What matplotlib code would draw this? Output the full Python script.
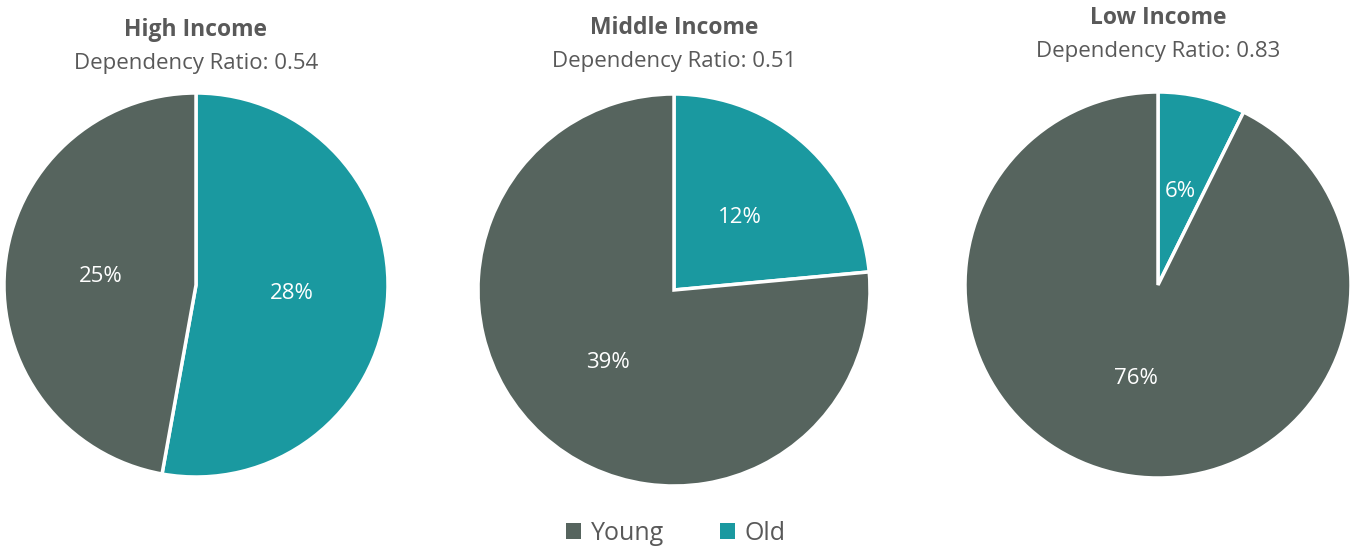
import matplotlib
matplotlib.use("Agg")
from matplotlib import pyplot as plt
from matplotlib.patches import Patch

plt.rcParams['font.family'] = ['Open Sans', 'DejaVu Sans']

groups = ['High Income', 'Middle Income', 'Low Income']
ratios = ['0.54', '0.51', '0.83']
old = [28, 12, 6]
young = [25, 39, 76]

col_young = '#56645E'
col_old = '#1A99A0'
txt = '#595959'

W, H = 1352, 548
fig = plt.figure(figsize=(W / 100, H / 100), dpi=100)

# pie centre (px), radius (px), title y (px)
centres = [(196, 285, 192, 30), (674, 290, 196, 28), (1158, 285, 193, 18)]

for i, (cx, cy, r, ty) in enumerate(centres):
    ax = fig.add_axes([(cx - r) / W, (H - cy - r) / H, 2 * r / W, 2 * r / H])
    vals = [old[i], young[i]]
    wedges, texts = ax.pie(vals, colors=[col_old, col_young], startangle=90,
                           counterclock=False, radius=1,
                           labels=[f'{v}%' for v in vals], labeldistance=0.5,
                           wedgeprops=dict(edgecolor='white', linewidth=2.5))
    for t in texts:
        t.set_color('white')
        t.set_fontsize(16)
        t.set_ha('center')
        t.set_va('center')
    ax.set_xlim(-1.0, 1.0)
    ax.set_ylim(-1.0, 1.0)
    ax.set_aspect('equal')
    fig.text(cx / W, 1 - ty / H, groups[i], ha='center', va='center',
             fontsize=16.5, fontweight='bold', color=txt)
    fig.text(cx / W, 1 - (ty + 33) / H, 'Dependency Ratio: ' + ratios[i],
             ha='center', va='center', fontsize=16, color=txt)

handles = [Patch(facecolor=col_young, label='Young'),
           Patch(facecolor=col_old, label='Old')]
fig.legend(handles=handles, loc='center', bbox_to_anchor=(676 / W, 1 - 533 / H),
           ncol=2, frameon=False, fontsize=18, handlelength=0.6, handleheight=0.6,
           columnspacing=2.2, handletextpad=0.4, labelcolor=txt)

fig.savefig('out.png', dpi=100)
